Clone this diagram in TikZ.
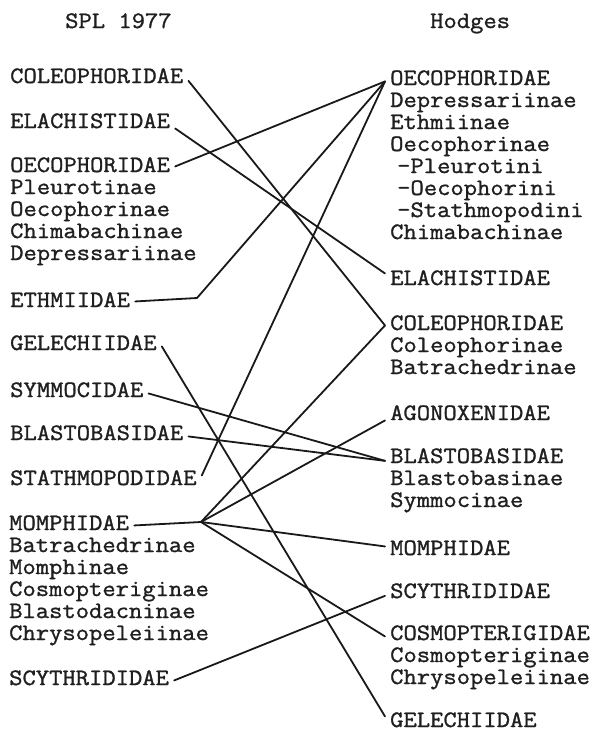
\documentclass[tikz,border=0pt]{standalone}
\usepackage{fontspec}
\newfontfamily\typew[FakeStretch=1.1,FakeBold=1.2]{Latin Modern Mono}
\begin{document}
\begin{tikzpicture}[x=1pt,y=-1pt,
  lbl/.style={anchor=base west, inner xsep=5pt, inner ysep=0pt, xshift=-5pt,
    font=\typew\fontsize{23.5}{22}\selectfont, text=black!88},
  link/.style={line width=1.8pt, draw=black!90, line cap=round, line join=round}]
\useasboundingbox (0,0) rectangle (594,731);
% headings
\node[lbl] (hL) at (65,28) {SPL 1977};
\node[lbl] (hR) at (430,28) {Hodges};
% left column
\node[lbl] (Lcol) at (10,83) {COLEOPHORIDAE};
\node[lbl] (Lela) at (10,128) {ELACHISTIDAE};
\node[lbl] (Loec) at (10,172) {OECOPHORIDAE};
\node[lbl] (Loec1) at (10,194) {Pleurotinae};
\node[lbl] (Loec2) at (10,216) {Oecophorinae};
\node[lbl] (Loec3) at (10,238) {Chimabachinae};
\node[lbl] (Loec4) at (10,260) {Depressariinae};
\node[lbl] (Leth) at (10,307) {ETHMIIDAE};
\node[lbl] (Lgel) at (10,350) {GELECHIIDAE};
\node[lbl] (Lsym) at (10,397) {SYMMOCIDAE};
\node[lbl] (Lbla) at (10,440) {BLASTOBASIDAE};
\node[lbl] (Lsta) at (10,485) {STATHMOPODIDAE};
\node[lbl] (Lmom) at (9,530) {MOMPHIDAE};
\node[lbl] (Lmom1) at (9,552) {Batrachedrinae};
\node[lbl] (Lmom2) at (9,574) {Momphinae};
\node[lbl] (Lmom3) at (9,596) {Cosmopteriginae};
\node[lbl] (Lmom4) at (9,618) {Blastodacninae};
\node[lbl] (Lmom5) at (9,640) {Chrysopeleiinae};
\node[lbl] (Lscy) at (9,685) {SCYTHRIDIDAE};
% right column
\node[lbl] (Roec) at (390,85) {OECOPHORIDAE};
\node[lbl] (Roec1) at (390,107) {Depressariinae};
\node[lbl] (Roec2) at (390,129) {Ethmiinae};
\node[lbl] (Roec3) at (390,151) {Oecophorinae};
\node[lbl] (Roec4) at (397,173) {-Pleurotini};
\node[lbl] (Roec5) at (397,195) {-Oecophorini};
\node[lbl] (Roec6) at (397,217) {-Stathmopodini};
\node[lbl] (Roec7) at (390,239) {Chimabachinae};
\node[lbl] (Rela) at (390,285) {ELACHISTIDAE};
\node[lbl] (Rcol) at (390,330) {COLEOPHORIDAE};
\node[lbl] (Rcol1) at (390,352) {Coleophorinae};
\node[lbl] (Rcol2) at (390,374) {Batrachedrinae};
\node[lbl] (Rago) at (390,420) {AGONOXENIDAE};
\node[lbl] (Rbla) at (390,463) {BLASTOBASIDAE};
\node[lbl] (Rbla1) at (390,485) {Blastobasinae};
\node[lbl] (Rbla2) at (390,507) {Symmocinae};
\node[lbl] (Rmom) at (390,555) {MOMPHIDAE};
\node[lbl] (Rscy) at (390,598) {SCYTHRIDIDAE};
\node[lbl] (Rcos) at (390,640) {COSMOPTERIGIDAE};
\node[lbl] (Rcos1) at (390,662) {Cosmopteriginae};
\node[lbl] (Rcos2) at (390,684) {Chrysopeleiinae};
\node[lbl] (Rgel) at (390,727) {GELECHIIDAE};
% junctions
\coordinate (ethJ) at (197,298);
\coordinate (momJ) at (201,522);
% connectors
\draw[link] (Lcol.mid east) -- ([yshift=2.4pt]Rcol.mid west);
\draw[link] ([yshift=-2.6pt]Lela.mid east) -- ([yshift=9.4pt]Rela.mid west);
\draw[link] ([yshift=3.4pt]Loec.mid east) -- ([yshift=1.4pt]Roec.mid west);
\draw[link] ([yshift=3.4pt]Leth.mid east) -- (ethJ) -- ([yshift=1.4pt]Roec.mid west);
\draw[link] ([yshift=1.4pt]Lgel.mid east) -- ([yshift=8.4pt]Rgel.mid west);
\draw[link] ([yshift=1.4pt]Lsym.mid east) -- (Rbla.mid west);
\draw[link] ([yshift=1.4pt]Lbla.mid east) -- (Rbla.mid west);
\draw[link] ([yshift=7.4pt]Lsta.mid east) -- ([yshift=1.4pt]Roec.mid west);
\draw[link] ([yshift=2.4pt]Lmom.mid east) -- (momJ);
\draw[link] (momJ) -- ([yshift=2.4pt]Rcol.mid west);
\draw[link] (momJ) -- ([yshift=-2.6pt]Rago.mid west);
\draw[link] (momJ) -- ([yshift=6.4pt]Rmom.mid west);
\draw[link] (momJ) -- ([yshift=1.4pt]Rcos.mid west);
\draw[link] ([yshift=2.4pt]Lscy.mid east) -- (Rscy.mid west);
\end{tikzpicture}
\end{document}
